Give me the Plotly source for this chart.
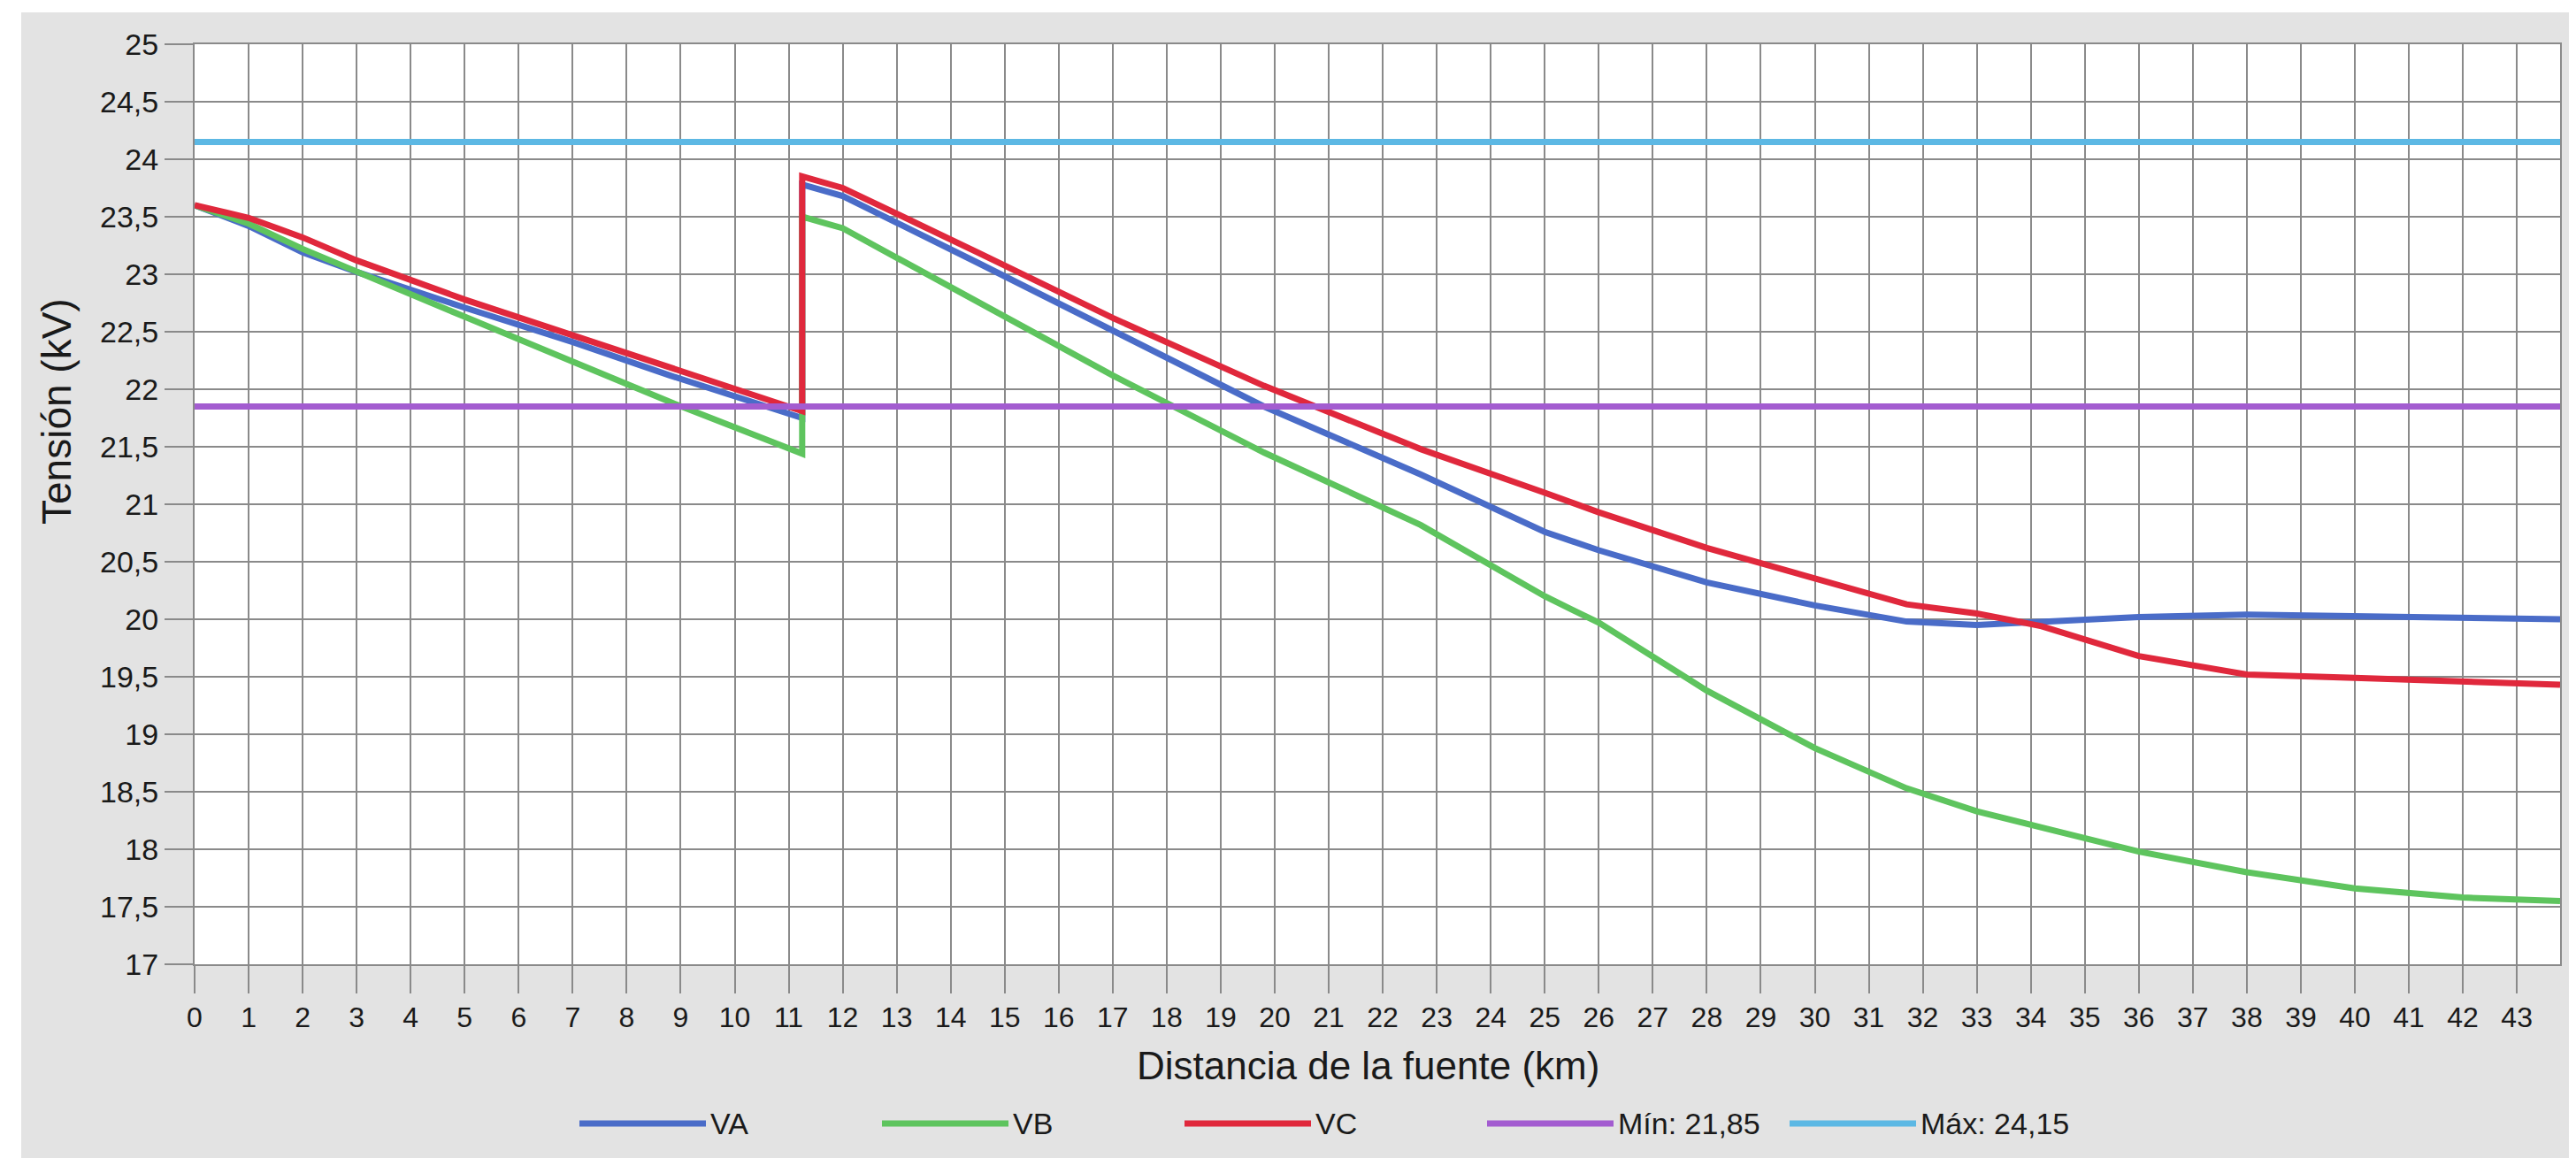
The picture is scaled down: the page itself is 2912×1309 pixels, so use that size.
import plotly.graph_objects as go

# ---- data ----
distancia = [0, 1, 2, 3, 5, 7, 8.8, 11.25, 11.25, 12, 14.5, 17, 19.8, 22.7, 25, 26, 28, 30,
             31.7, 33, 34.2, 36, 38, 40, 42, 43.8]
VA = [23.6, 23.42, 23.19, 23.02, 22.71, 22.41, 22.12, 21.75, 23.78, 23.68, 23.1, 22.51, 21.85,
      21.26, 20.76, 20.6, 20.32, 20.12, 19.98, 19.95, 19.98, 20.02, 20.04, 20.03, 20.01, 20.0]
VB = [23.6, 23.44, 23.22, 23.02, 22.63, 22.24, 21.89, 21.44, 23.5, 23.4, 22.76, 22.12, 21.45,
      20.82, 20.2, 19.97, 19.38, 18.88, 18.53, 18.33, 18.19, 17.98, 17.8, 17.66, 17.58, 17.55]
VC = [23.6, 23.49, 23.32, 23.12, 22.78, 22.47, 22.18, 21.81, 23.85, 23.75, 23.19, 22.62, 22.03,
      21.48, 21.1, 20.93, 20.62, 20.35, 20.13, 20.05, 19.94, 19.68, 19.52, 19.49, 19.46, 19.43]
limite_min = 21.85
limite_max = 24.15
x_ticks = list(range(0, 44))
series_names = ["VA", "VB", "VC", "Mín: 21,85", "Máx: 24,15"]
series_colors = ["#4a6cc8", "#5ec45e", "#e0283c", "#a35cd0", "#5cb8e4"]

W, H = 2912, 1309
ML, MR, MT, MB = 212, 26, 42, 227
PW, PH = W - ML - MR, H - MT - MB
FONT = "Liberation Sans, Arial, sans-serif"

x_end = 43.8

fig = go.Figure()
for name, color, ys in zip(series_names[:3], series_colors[:3], [VA, VB, VC]):
    fig.add_trace(go.Scatter(x=distancia, y=ys, mode="lines", name=name,
                             line=dict(color=color, width=7), showlegend=False))
fig.add_trace(go.Scatter(x=[0, x_end], y=[limite_min, limite_min], mode="lines",
                         name=series_names[3], line=dict(color=series_colors[3], width=7),
                         showlegend=False))
fig.add_trace(go.Scatter(x=[0, x_end], y=[limite_max, limite_max], mode="lines",
                         name=series_names[4], line=dict(color=series_colors[4], width=7),
                         showlegend=False))

def px_x(p):
    return (p - ML) / PW

def px_y(p):
    return (H - MB - p) / PH

shapes = [
    dict(type="rect", xref="paper", yref="paper", x0=px_x(16), x1=px_x(W + 5),
         y0=px_y(H + 5), y1=px_y(6), fillcolor="#e3e3e3", line=dict(width=0), layer="below"),
    dict(type="rect", xref="paper", yref="paper", x0=0, x1=1, y0=0, y1=1,
         fillcolor="white", line=dict(width=0), layer="below"),
]
annotations = []

# custom legend (long line samples as in the reference)
leg_start = 647
leg_step = 342
leg_len = 143
leg_y = 1262
for i, (name, color) in enumerate(zip(series_names, series_colors)):
    x0 = leg_start + i * leg_step
    shapes.append(dict(type="line", xref="paper", yref="paper",
                       x0=px_x(x0), x1=px_x(x0 + leg_len), y0=px_y(leg_y), y1=px_y(leg_y),
                       line=dict(color=color, width=7)))
    annotations.append(dict(xref="paper", yref="paper", x=px_x(x0 + leg_len + 3), y=px_y(leg_y),
                            text=name, showarrow=False, xanchor="left", yanchor="middle",
                            font=dict(family=FONT, size=34, color="#1a1a1a")))

annotations.append(dict(xref="paper", yref="paper", x=px_x(1538), y=px_y(1196),
                        text="Distancia de la fuente (km)", showarrow=False,
                        xanchor="center", yanchor="middle",
                        font=dict(family=FONT, size=44, color="#1a1a1a")))
annotations.append(dict(xref="paper", yref="paper", x=px_x(56), y=px_y(457),
                        text="Tensión (kV)", showarrow=False, textangle=-90,
                        xanchor="center", yanchor="middle",
                        font=dict(family=FONT, size=46, color="#1a1a1a")))

fig.update_layout(
    width=W, height=H,
    margin=dict(l=ML, r=MR, t=MT, b=MB),
    paper_bgcolor="white", plot_bgcolor="white",
    separators=",.",
    showlegend=False,
    shapes=shapes, annotations=annotations,
    font=dict(family=FONT, color="#1a1a1a"),
)
fig.update_xaxes(range=[0, x_end], tickvals=x_ticks, ticktext=[str(v) for v in x_ticks],
                 showgrid=True, gridcolor="#8a8a8a", gridwidth=2,
                 ticks="outside", ticklen=31, tickcolor="#8a8a8a", tickwidth=2,
                 tickfont=dict(family=FONT, size=32, color="#1a1a1a"),
                 showline=True, linecolor="#8a8a8a", linewidth=2, mirror=True,
                 zeroline=False)
fig.update_yaxes(range=[17, 25], dtick=0.5, tick0=17,
                 showgrid=True, gridcolor="#8a8a8a", gridwidth=2,
                 ticks="outside", ticklen=32, tickcolor="#8a8a8a", tickwidth=2,
                 tickfont=dict(family=FONT, size=34, color="#1a1a1a"),
                 showline=True, linecolor="#8a8a8a", linewidth=2, mirror=True,
                 zeroline=False)

fig.write_html("out.html")
